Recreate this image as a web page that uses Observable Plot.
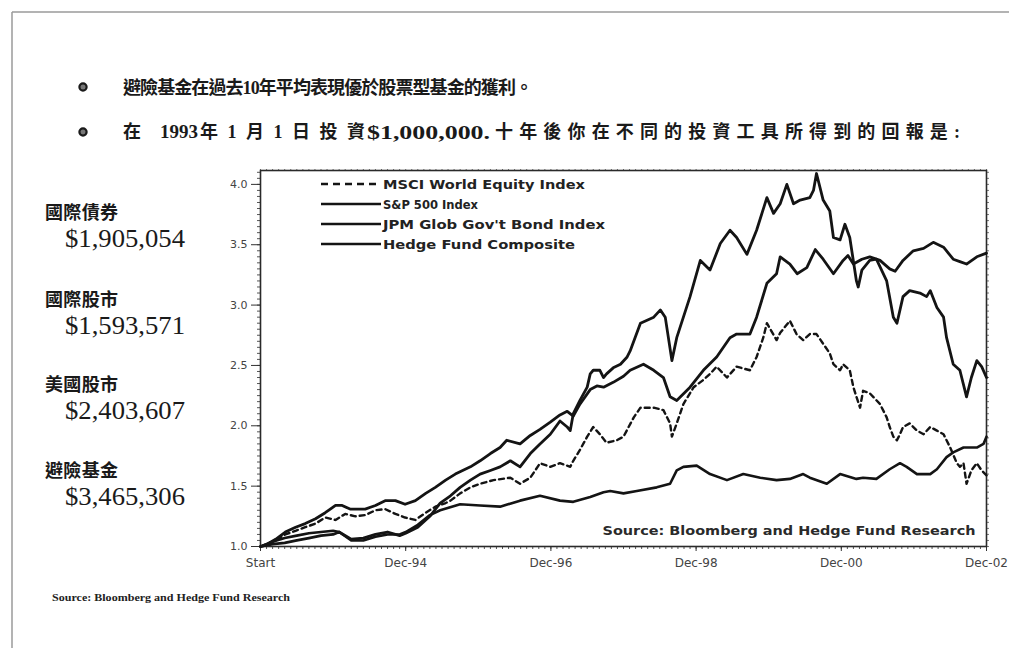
<!DOCTYPE html>
<html>
<head>
<meta charset="utf-8">
<script src="https://cdn.jsdelivr.net/npm/d3@7"></script>
<script src="https://cdn.jsdelivr.net/npm/@observablehq/plot@0.6"></script>
<style>
  html, body { margin: 0; padding: 0; background: #fff; }
  body { width: 1009px; height: 648px; overflow: hidden; position: relative; }
  #chart { position: absolute; left: 200px; top: 160px; }
  #overlay { position: absolute; left: 0; top: 0; pointer-events: none; }
</style>
</head>
<body>
<div id="chart"></div>
<svg id="overlay" width="1009" height="648"></svg>
<script>
// ---------------- DATA (month since start, growth of $1) ----------------
const seriesNames = ["MSCI World Equity Index", "S&P 500 Index", "JPM Glob Gov't Bond Index", "Hedge Fund Composite"];

const msciWorld = [[0,1.00],[2.5,1.05],[4.1,1.10],[5.8,1.13],[7.4,1.16],[9.1,1.19],[10.7,1.24],[12.4,1.22],[14,1.27],[15.7,1.25],[17.3,1.26],[19,1.30],[20.6,1.31],[22.3,1.27],[23.9,1.24],[25.6,1.22],[27.3,1.28],[28.9,1.33],[30.6,1.36],[31.4,1.38],[33,1.44],[34.7,1.49],[36.3,1.52],[38.5,1.55],[41.3,1.57],[42.9,1.52],[44.6,1.57],[46.2,1.69],[47.9,1.66],[49.5,1.69],[51.2,1.66],[51.7,1.71],[52.8,1.80],[54,1.91],[55,1.99],[56.1,1.93],[57.2,1.86],[58.9,1.88],[60,1.91],[61.7,2.07],[62.8,2.15],[65,2.15],[66.6,2.13],[67.7,2.02],[68,1.91],[68.8,2.02],[69.9,2.18],[71.6,2.32],[73.2,2.38],[74.3,2.43],[75.4,2.49],[77.1,2.40],[78.7,2.49],[80.9,2.46],[82,2.57],[83.1,2.73],[83.7,2.85],[85.3,2.71],[85.9,2.77],[87.5,2.87],[88.6,2.76],[89.7,2.71],[90.8,2.76],[91.9,2.76],[93,2.68],[94.1,2.60],[94.7,2.51],[95.8,2.46],[96.3,2.51],[97.4,2.46],[98,2.32],[98.5,2.24],[99.1,2.15],[99.6,2.29],[100.7,2.27],[102.4,2.18],[103.5,2.07],[104,1.99],[104.6,1.91],[105.2,1.88],[105.7,1.93],[106.2,1.99],[107.3,2.02],[108.5,1.96],[109.6,1.93],[110.7,1.99],[111.8,1.96],[112.9,1.93],[113.4,1.88],[114,1.82],[115.1,1.69],[115.6,1.66],[116.2,1.69],[116.7,1.52],[117.5,1.63],[118.4,1.69],[119.2,1.63],[120,1.59]];

const sp500 = [[0,1.00],[2,1.02],[4,1.03],[6,1.05],[8,1.07],[10,1.09],[12,1.10],[13,1.12],[15,1.06],[17,1.07],[19,1.10],[21,1.12],[23,1.09],[24,1.11],[26,1.16],[28,1.25],[29.7,1.36],[31.4,1.42],[33,1.49],[34.7,1.55],[36.3,1.60],[38,1.63],[39.6,1.66],[41.3,1.71],[42.9,1.66],[44.6,1.77],[46.2,1.85],[47.9,1.93],[49.5,2.04],[50.7,1.99],[51.2,1.96],[51.7,2.10],[52.8,2.21],[54,2.32],[54.5,2.43],[55,2.46],[56.1,2.46],[56.7,2.40],[57.2,2.43],[58.3,2.48],[59.5,2.51],[60.6,2.57],[61.1,2.62],[62.8,2.85],[65,2.90],[66.1,2.96],[66.9,2.90],[68,2.54],[68.8,2.73],[71,3.07],[72.7,3.37],[74.3,3.29],[76,3.51],[77.6,3.62],[78.7,3.56],[80.4,3.42],[82,3.62],[83.7,3.89],[84.8,3.76],[85.9,3.84],[87,4.00],[88.1,3.84],[89.2,3.87],[90.8,3.89],[91.4,3.95],[91.9,4.09],[93,3.87],[94.1,3.78],[94.7,3.56],[95.8,3.54],[96.6,3.67],[97.4,3.56],[98.5,3.20],[98.8,3.15],[99.4,3.29],[100.7,3.37],[101.8,3.38],[103.5,3.20],[104.6,2.90],[105.2,2.85],[106.2,3.07],[107.3,3.12],[109,3.10],[110.1,3.07],[110.7,3.12],[111.8,2.98],[112.9,2.90],[113.4,2.73],[114.5,2.51],[115.6,2.46],[116.7,2.24],[117.5,2.40],[118.4,2.54],[119.2,2.49],[120,2.40]];

const jpmBond = [[0,1.00],[2,1.04],[4,1.07],[6,1.09],[8,1.11],[10,1.12],[12,1.13],[13,1.12],[15,1.05],[17,1.05],[19,1.08],[21,1.10],[23,1.10],[24,1.12],[26,1.18],[28,1.26],[29.7,1.30],[33,1.35],[36.3,1.34],[39.6,1.33],[42.9,1.38],[46.2,1.42],[49.5,1.38],[51.7,1.37],[54.5,1.41],[56.7,1.45],[57.8,1.46],[60,1.44],[62.2,1.46],[65.5,1.49],[67.7,1.52],[68.8,1.63],[69.9,1.66],[72.1,1.67],[74.3,1.60],[77.1,1.55],[79.8,1.60],[82.6,1.57],[85.3,1.55],[87.5,1.56],[89.7,1.60],[90.8,1.57],[93.6,1.52],[95.8,1.60],[98.5,1.56],[99.6,1.57],[101.8,1.56],[104,1.64],[105.7,1.69],[106.8,1.66],[108.5,1.60],[110.7,1.60],[111.8,1.64],[113.4,1.74],[114.5,1.78],[116.2,1.82],[118.4,1.82],[119.5,1.85],[120,1.91]];

const hedgeFund = [[0,1.00],[0.8,1.01],[2.5,1.06],[4.1,1.12],[5.8,1.16],[7.4,1.19],[9.1,1.23],[10.7,1.28],[12.4,1.34],[13.5,1.34],[14.8,1.31],[17.3,1.31],[19,1.34],[20.6,1.38],[22.3,1.38],[23.9,1.35],[25.6,1.38],[27.3,1.44],[28.9,1.49],[30.6,1.55],[32.2,1.60],[34.7,1.66],[36.3,1.71],[38,1.77],[39.6,1.82],[40.7,1.88],[42.9,1.85],[44.6,1.92],[46.2,1.97],[47.9,2.03],[49.5,2.09],[50.7,2.12],[51.7,2.08],[52.8,2.18],[54.5,2.30],[55.6,2.33],[56.7,2.32],[58.3,2.36],[60,2.41],[61.1,2.46],[63.3,2.51],[65,2.46],[66.6,2.40],[67.7,2.24],[68.8,2.21],[71,2.32],[73.2,2.46],[75.4,2.57],[77.6,2.73],[78.7,2.76],[80.9,2.76],[82,2.90],[83.7,3.18],[85.3,3.26],[85.9,3.40],[87.5,3.34],[88.7,3.26],[90.3,3.31],[91.7,3.46],[93,3.38],[94.7,3.26],[96.3,3.37],[97.1,3.41],[98,3.34],[99.4,3.38],[100.7,3.40],[102.4,3.37],[104,3.30],[104.9,3.28],[106.2,3.37],[107.9,3.45],[109.6,3.47],[111.2,3.52],[112.9,3.48],[114.5,3.38],[115.6,3.36],[116.7,3.34],[118.4,3.40],[120,3.43]];

const xTickMonths = [0, 24, 48, 72, 96, 120];
const xTickLabels = ["Start", "Dec-94", "Dec-96", "Dec-98", "Dec-00", "Dec-02"];
const yTicks = [1.0, 1.5, 2.0, 2.5, 3.0, 3.5, 4.0];

const bullet1 = "避險基金在過去10年平均表現優於股票型基金的獲利。";
const bullet2Parts = ["在", "1993", "年1月1日投資", "$1,000,000.", "十年後你在不同的投資工具所得到的回報是:"];
const assetNames = ["國際債券", "國際股市", "美國股市", "避險基金"];
const assetValues = ["$1,905,054", "$1,593,571", "$2,403,607", "$3,465,306"];
const sourceLabel = "Source: Bloomberg and Hedge Fund Research";

// ---------------- CHART ----------------
const toRows = arr => arr.map(([m, v]) => ({m, v}));
const xLabelFor = new Map(xTickMonths.map((m, i) => [m, xTickLabels[i]]));
const ink = "#141414";

const chart = Plot.plot({
  width: 809,
  height: 420,
  marginLeft: 60,
  marginRight: 23,
  marginTop: 10,
  marginBottom: 34,
  style: {fontFamily: "DejaVu Sans", fontSize: "11px", color: "#333", background: "transparent", overflow: "visible"},
  x: {domain: [0, 120], axis: null, label: null},
  y: {domain: [1, 4.115], axis: null, label: null},
  marks: [
    Plot.axisX({ticks: d3.range(0, 121, 1), tickSize: 3, tickFormat: () => "", label: null, stroke: "#555"}),
    Plot.axisY({ticks: d3.range(0, 63).map(i => 1 + i * 0.05), tickSize: 3, tickFormat: () => "", label: null, stroke: "#555"}),
    Plot.axisX({ticks: d3.range(0, 121, 1), anchor: "top", tickSize: 2, tickFormat: () => "", label: null, stroke: "#777"}),
    Plot.axisY({ticks: d3.range(0, 63).map(i => 1 + i * 0.05), anchor: "right", tickSize: 2, tickFormat: () => "", label: null, stroke: "#777"}),
    Plot.axisX({ticks: xTickMonths, tickFormat: d => xLabelFor.get(d), tickSize: 5, tickPadding: 7, label: null, fill: "#444", fontSize: 12}),
    Plot.axisY({ticks: yTicks, tickFormat: d3.format(".1f"), tickSize: 9, tickPadding: 4, label: null, fill: "#444", fontSize: 11}),
    Plot.frame({stroke: "#2a2a2a", strokeWidth: 1.6}),
    Plot.line(toRows(jpmBond), {x: "m", y: "v", stroke: ink, strokeWidth: 2.6, strokeLinejoin: "round"}),
    Plot.line(toRows(hedgeFund), {x: "m", y: "v", stroke: ink, strokeWidth: 2.8, strokeLinejoin: "round"}),
    Plot.line(toRows(sp500), {x: "m", y: "v", stroke: ink, strokeWidth: 2.8, strokeLinejoin: "round"}),
    Plot.line(toRows(msciWorld), {x: "m", y: "v", stroke: ink, strokeWidth: 2.4, strokeDasharray: "5,4", strokeLinejoin: "round"}),
    Plot.text([sourceLabel], {frameAnchor: "bottom-right", dx: -11, dy: -16, lineAnchor: "middle", text: d => d,
      fontFamily: "DejaVu Sans", fontWeight: "bold", fontSize: 13, fill: "#2a2a2a", className: "srcin"})
  ]
});
document.getElementById("chart").appendChild(chart);
d3.select(chart).selectAll(".srcin text").attr("textLength", 373).attr("lengthAdjust", "spacingAndGlyphs");

// ---------------- OVERLAY TEXT ----------------
const ov = d3.select("#overlay");
const serifCJK = "'Liberation Serif', 'Noto Sans CJK TC', serif";

ov.append("line").attr("x1", 12).attr("y1", 12).attr("x2", 1009).attr("y2", 12).attr("stroke", "#9a9a9a").attr("stroke-width", 1.5);
ov.append("line").attr("x1", 12).attr("y1", 12).attr("x2", 12).attr("y2", 648).attr("stroke", "#9a9a9a").attr("stroke-width", 1.5);

function txt(x, y, s, size, width, opts = {}) {
  const t = ov.append("text").attr("x", x).attr("y", y).text(s)
    .attr("font-family", opts.family || serifCJK)
    .attr("font-size", size)
    .attr("font-weight", opts.weight || "bold")
    .attr("fill", opts.fill || "#1a1a1a")
    .attr("dominant-baseline", "central");
  if (width) t.attr("textLength", width).attr("lengthAdjust", opts.adjust || "spacing");
  return t;
}

[87, 132].forEach(cy => {
  ov.append("circle").attr("cx", 83).attr("cy", cy).attr("r", 3.6).attr("fill", "#777").attr("stroke", "#1a1a1a").attr("stroke-width", 2.2);
});
txt(123, 88, bullet1, 18, 410);
const partX = [123, 160, 200, 367, 495];
const partW = [18, 38, 165, 123, 465];
bullet2Parts.forEach((p, i) => {
  txt(partX[i], 132, p, i === 3 ? 19 : 18, partW[i], {adjust: i === 3 || i === 1 ? "spacingAndGlyphs" : "spacing"});
});

assetNames.forEach((n, i) => {
  const base = [213, 300, 385, 471][i];
  txt(45, base, n, 18, 73);
  txt(65, base + 25, assetValues[i], 25, 120, {adjust: "spacingAndGlyphs", weight: "normal", fill: "#1a1a1a"});
});

const legendY = [184, 204, 224, 244];
const legendW = [202, 95, 222, 192];
seriesNames.forEach((n, i) => {
  const l = ov.append("line").attr("x1", 321).attr("x2", 381).attr("y1", legendY[i]).attr("y2", legendY[i])
    .attr("stroke", ink).attr("stroke-width", i === 0 ? 2.4 : 2.6);
  if (i === 0) l.attr("stroke-dasharray", "7,5");
  txt(383, legendY[i] + 0.5, n, 13, legendW[i], {family: "DejaVu Sans", adjust: "spacingAndGlyphs", fill: "#222"});
});

txt(52, 597, sourceLabel, 10, 238, {family: "'Liberation Serif', serif", adjust: "spacingAndGlyphs", fill: "#222"});
</script>
</body>
</html>
